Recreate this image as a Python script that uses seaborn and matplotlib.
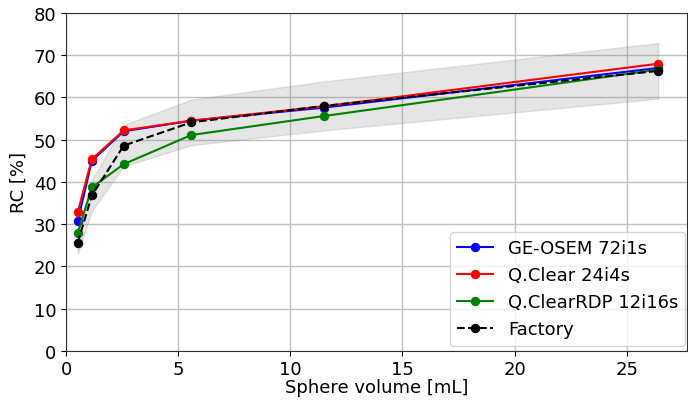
import numpy as np
import pandas as pd
import matplotlib
matplotlib.use("Agg")
import matplotlib.pyplot as plt
import seaborn as sns

volume = [0.52, 1.15, 2.57, 5.58, 11.49, 26.4]
ge_osem = [30.7, 45.0, 52.0, 54.5, 57.6, 67.0]
qclear = [32.8, 45.4, 52.2, 54.5, 57.9, 68.0]
qclear_rdp = [27.9, 38.7, 44.2, 51.1, 55.6, 66.6]
factory = [25.6, 36.8, 48.6, 54.1, 58.0, 66.3]
band_low = [23.0, 33.1, 43.7, 48.7, 52.2, 59.7]
band_high = [28.2, 40.5, 53.5, 59.5, 63.8, 72.9]

series = {
    "GE-OSEM 72i1s": (ge_osem, "blue", "-"),
    "Q.Clear 24i4s": (qclear, "red", "-"),
    "Q.ClearRDP 12i16s": (qclear_rdp, "green", "-"),
    "Factory": (factory, "black", "--"),
}

plt.rcParams["font.size"] = 13
fig, ax = plt.subplots(figsize=(6.88, 4.02), dpi=100)

ax.fill_between(volume, band_low, band_high, color="gray", alpha=0.2, zorder=1)

for name, (vals, col, ls) in series.items():
    df = pd.DataFrame({"Volume": volume, "RC": vals})
    sns.lineplot(data=df, x="Volume", y="RC", ax=ax, color=col, linestyle=ls,
                 marker="o", markersize=6, markeredgecolor=col, label=name, zorder=3)

ax.set_xlim(0, 27.7)
ax.set_ylim(0, 80)
ax.set_xticks([0, 5, 10, 15, 20, 25])
ax.set_xlabel("Sphere volume [mL]", fontsize=13, labelpad=0)
ax.set_ylabel("RC [%]", fontsize=13)
ax.grid(True, color="#c0c0c0", linewidth=1)
ax.set_axisbelow(True)
for s in ax.spines.values():
    s.set_color("#333333")
ax.legend(loc="lower right", fontsize=13, bbox_to_anchor=(0.997, 0.015),
          borderaxespad=0)

fig.subplots_adjust(left=0.096, right=0.999, top=0.965, bottom=0.125)
plt.savefig("out.png", dpi=100)
